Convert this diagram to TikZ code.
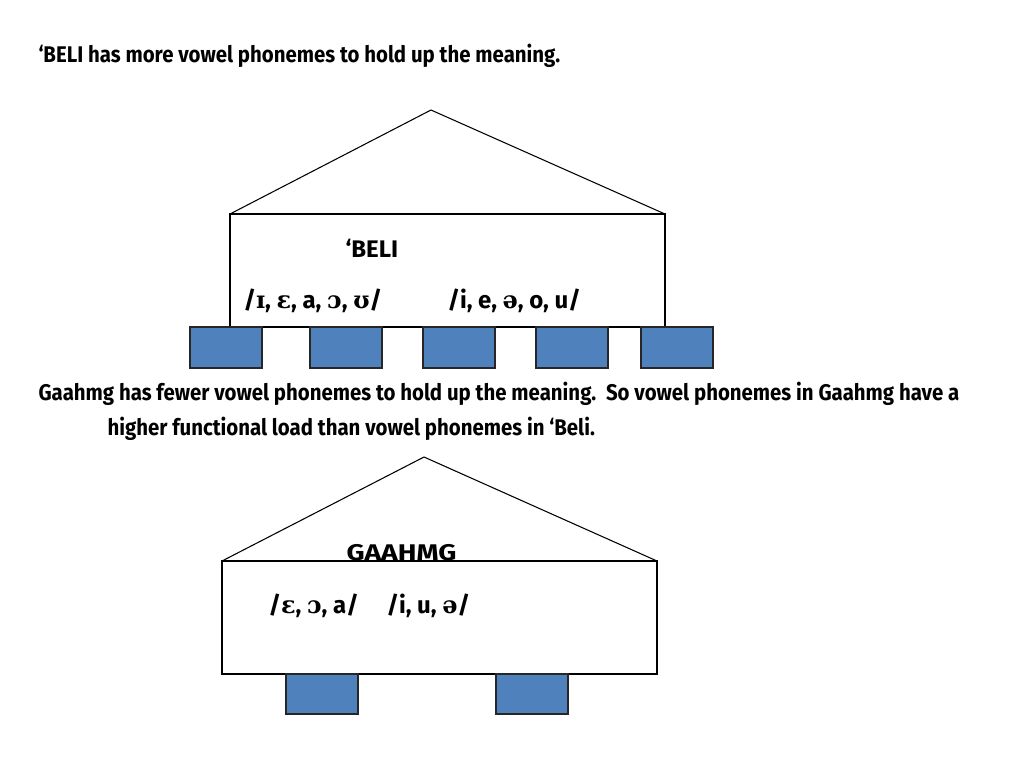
\documentclass[tikz,border=0pt]{standalone}
\usepackage{fontspec}
\setmainfont{Fira Sans}[FakeStretch=0.9]
\newfontfamily\boxfont{Fira Sans}
\newfontfamily\widefont{Fira Sans}[FakeStretch=1.24]
\newfontfamily\ipafont{DejaVu Serif}
\usetikzlibrary{positioning}

\definecolor{pillarblue}{RGB}{79,129,189}
\newcommand{\ipa}[1]{{\ipafont\bfseries #1}}

\begin{document}
\begin{tikzpicture}[
  x=0.75pt, y=-0.75pt,
  line width=0.8pt,
  txt/.style={anchor=base west, inner sep=0pt, font=\bfseries\fontsize{17}{20}\selectfont},
  boxtxt/.style={txt, font=\boxfont\bfseries\fontsize{18}{21}\selectfont},
  pillar/.style={fill=pillarblue, draw=black!85},
  ]
  \useasboundingbox (0,0) rectangle (1024,768);

  % --- heading ---
  \node[txt] (head) at (38,62) {‘BELI has more vowel phonemes to hold up the meaning.};

  % --- top house: 'Beli ---
  \draw (230,214) -- (431,110) -- (665,214);
  \draw (230,214) rectangle (665,327);
  \node[boxtxt] (beli) at (345,257) {‘BELI};
  \node[boxtxt] (beliA) at (243,308) {/\ipa{ɪ}, \ipa{ɛ}, a, \ipa{ɔ}, \ipa{ʊ}/};
  \node[boxtxt] (beliB) at (447,308) {/i, e, \ipa{ə}, o, u/};

  % --- pillars under 'Beli ---
  \foreach \x in {190, 310, 423, 536, 641}
    \draw[pillar] (\x,327) rectangle ++(72,41);

  % --- middle text ---
  \node[txt] (mid1) at (38,400) {Gaahmg has fewer vowel phonemes to hold up the meaning.\ \ So vowel phonemes in Gaahmg have a};
  \node[txt] (mid2) at (107,435) {higher functional load than vowel phonemes in ‘Beli.};

  % --- bottom house: Gaahmg ---
  \draw (222,561) -- (424,457) -- (657,561);
  \draw (222,561) rectangle (657,674);
  \node[txt, font=\widefont\bfseries\fontsize{17}{20}\selectfont] (gaahmg) at (346,560) {GAAHMG};
  \node[boxtxt] (gaA) at (268,613) {/\ipa{ɛ}, \ipa{ɔ}, a/};
  \node[boxtxt] (gaB) at (386,613) {/i, u, \ipa{ə}/};

  % --- pillars under Gaahmg ---
  \foreach \x in {286, 496}
    \draw[pillar] (\x,674) rectangle ++(72,40);
\end{tikzpicture}
\end{document}
